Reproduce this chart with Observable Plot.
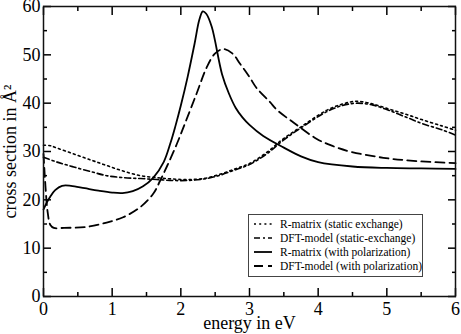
<!DOCTYPE html>
<html>
<head>
<meta charset="utf-8">
<script src="https://cdn.jsdelivr.net/npm/d3@7"></script>
<script src="https://cdn.jsdelivr.net/npm/@observablehq/plot@0.6"></script>
<style>
  html, body { margin: 0; padding: 0; background: white; }
  #wrap { position: relative; width: 461px; height: 334px; font-family: "Liberation Serif", "DejaVu Serif", serif; }
  #legend { position: absolute; left: 248px; top: 214px; width: 175px; height: 63px; border: 1px solid #444; background: white; box-sizing: border-box; font-size: 11.5px; padding-top: 2px; white-space: nowrap; overflow: hidden; }
  #legend .row { display: flex; align-items: center; height: 14px; }
  #legend svg { margin-left: 4px; margin-right: 7px; flex: none; }
</style>
</head>
<body>
<div id="wrap"></div>
<script>
// ---- data ----
const rmPolE   = [0, 0.05, 0.1, 0.17, 0.27, 0.4, 0.6, 0.8, 1.0, 1.15, 1.3, 1.45, 1.6, 1.75, 1.85, 1.92, 2.0, 2.1, 2.2, 2.27, 2.32, 2.37, 2.45, 2.6, 2.7, 2.8, 2.9, 3.0, 3.2, 3.5, 3.75, 4.0, 4.5, 5.0, 5.5, 6.0];
const rmPolS   = [18.0, 19.5, 20.7, 22.0, 22.9, 22.9, 22.4, 21.9, 21.5, 21.4, 21.8, 22.8, 24.6, 27.8, 31.8, 35.2, 39.5, 45.5, 52.3, 57.3, 59.0, 58.5, 55.8, 46.0, 42.0, 39.0, 37.0, 35.5, 33.2, 30.8, 29.0, 27.8, 26.9, 26.6, 26.5, 26.4];

const dftPolE  = [0, 0.03, 0.06, 0.1, 0.15, 0.3, 0.63, 0.92, 1.16, 1.41, 1.6, 1.7, 1.8, 1.94, 2.06, 2.23, 2.38, 2.5, 2.62, 2.75, 2.86, 3.0, 3.1, 3.3, 3.4, 3.64, 3.98, 4.2, 4.46, 4.95, 5.44, 6.0];
const dftPolS  = [29.5, 22.5, 17.5, 14.8, 14.2, 14.2, 14.4, 15.3, 16.4, 18.5, 21.3, 24.0, 27.0, 31.5, 35.8, 42.0, 47.5, 50.3, 51.2, 50.3, 48.2, 45.4, 43.2, 40.2, 38.6, 36.0, 32.6, 31.2, 30.0, 28.7, 28.0, 27.6];

const rmStatE  = [0, 0.1, 0.2, 0.44, 0.7, 0.92, 1.15, 1.41, 1.65, 1.89, 2.1, 2.33, 2.55, 2.81, 3.0, 3.25, 3.49, 3.74, 4.12, 4.35, 4.56, 4.8, 5.05, 5.3, 5.53, 5.8, 6.0];
const rmStatS  = [31.3, 31.2, 30.7, 29.5, 28.2, 27.1, 26.0, 25.0, 24.6, 24.3, 24.2, 24.4, 25.2, 26.5, 27.5, 29.8, 32.6, 35.0, 38.5, 39.8, 40.4, 39.8, 38.7, 37.6, 36.5, 35.3, 34.4];

const dftStatE = [0, 0.2, 0.44, 0.7, 0.92, 1.15, 1.41, 1.65, 1.89, 2.1, 2.33, 2.55, 2.81, 3.0, 3.25, 3.49, 3.74, 4.12, 4.35, 4.56, 4.8, 5.05, 5.3, 5.53, 5.8, 6.0];
const dftStatS = [28.8, 27.8, 26.8, 25.8, 25.0, 24.6, 24.4, 24.2, 24.0, 24.0, 24.3, 25.0, 26.3, 27.3, 29.5, 32.3, 34.8, 38.2, 39.5, 40.0, 39.6, 38.4, 37.0, 35.7, 34.5, 33.4];

const seriesNames = ["R-matrix (static exchange)", "DFT-model (static-exchange)", "R-matrix (with polarization)", "DFT-model (with polarization)"];
const xMajor = [0, 1, 2, 3, 4, 5, 6];
const xMinor = [0.5, 1.5, 2.5, 3.5, 4.5, 5.5];
const yMajor = [0, 10, 20, 30, 40, 50, 60];
const yMinor = [5, 15, 25, 35, 45, 55];
const xLabel = "energy in eV";
const yLabel = "cross section in Å²";

const styles = [
  {dash: "2,3.2", width: 1.6},
  {dash: "6,3,2,3", width: 1.6},
  {dash: null, width: 1.8},
  {dash: "9,5", width: 1.8}
];

const toRows = (E, S) => E.map((e, i) => ({e, s: S[i]}));
const sets = [toRows(rmStatE, rmStatS), toRows(dftStatE, dftStatS), toRows(rmPolE, rmPolS), toRows(dftPolE, dftPolS)];

const W = 461, H = 334, mL = 43, mR = 6, mT = 6, mB = 38;
const major = 8, minor = 4;
const tk = {stroke: "black", strokeWidth: 1.5, tickFormat: () => "", label: null};

const chart = Plot.plot({
  width: W, height: H,
  marginLeft: mL, marginRight: mR, marginTop: mT, marginBottom: mB,
  style: {fontFamily: "Liberation Serif", fontSize: "18px", background: "white", color: "#000"},
  x: {domain: [0, 6]},
  y: {domain: [0, 60]},
  marks: [
    ...sets.map((d, i) => Plot.line(d, {x: "e", y: "s", curve: "catmull-rom", stroke: "black", strokeWidth: styles[i].width, strokeDasharray: styles[i].dash})),
    // inward ticks on all four sides
    Plot.axisX(xMajor, {anchor: "bottom", tickSize: -major, ...tk}),
    Plot.axisX(xMinor, {anchor: "bottom", tickSize: -minor, ...tk}),
    Plot.axisX(xMajor, {anchor: "top", tickSize: -major, ...tk}),
    Plot.axisX(xMinor, {anchor: "top", tickSize: -minor, ...tk}),
    Plot.axisY(yMajor, {anchor: "left", tickSize: -major, ...tk}),
    Plot.axisY(yMinor, {anchor: "left", tickSize: -minor, ...tk}),
    Plot.axisY(yMajor, {anchor: "right", tickSize: -major, ...tk}),
    Plot.axisY(yMinor, {anchor: "right", tickSize: -minor, ...tk}),
    // tick labels
    Plot.axisX(xMajor, {anchor: "bottom", tickSize: 0, tickPadding: 6, tickFormat: d => String(d), label: null, fontSize: 18}),
    Plot.axisY(yMajor, {anchor: "left", tickSize: 0, tickPadding: 3, tickFormat: d => String(d), label: null, fontSize: 18}),
    Plot.frame({stroke: "#111", strokeWidth: 1.5}),
    Plot.text([xLabel], {frameAnchor: "bottom", lineAnchor: "middle", textAnchor: "middle", dy: 27, fontSize: 18}),
    Plot.text([yLabel], {frameAnchor: "left", textAnchor: "middle", lineAnchor: "middle", dx: -33, rotate: -90, fontSize: 18})
  ]
});
const wrap = document.getElementById("wrap");
wrap.appendChild(chart);

// legend
const leg = document.createElement("div");
leg.id = "legend";
seriesNames.forEach((name, i) => {
  const row = document.createElement("div");
  row.className = "row";
  const ns = "http://www.w3.org/2000/svg";
  const svg = document.createElementNS(ns, "svg");
  svg.setAttribute("width", 20); svg.setAttribute("height", 10);
  const ln = document.createElementNS(ns, "line");
  ln.setAttribute("x1", 1); ln.setAttribute("x2", 19); ln.setAttribute("y1", 5); ln.setAttribute("y2", 5);
  ln.setAttribute("stroke", "black"); ln.setAttribute("stroke-width", styles[i].width);
  if (styles[i].dash) ln.setAttribute("stroke-dasharray", styles[i].dash);
  svg.appendChild(ln);
  row.appendChild(svg);
  const t = document.createElement("span");
  t.textContent = name;
  row.appendChild(t);
  leg.appendChild(row);
});
wrap.appendChild(leg);
</script>
</body>
</html>
